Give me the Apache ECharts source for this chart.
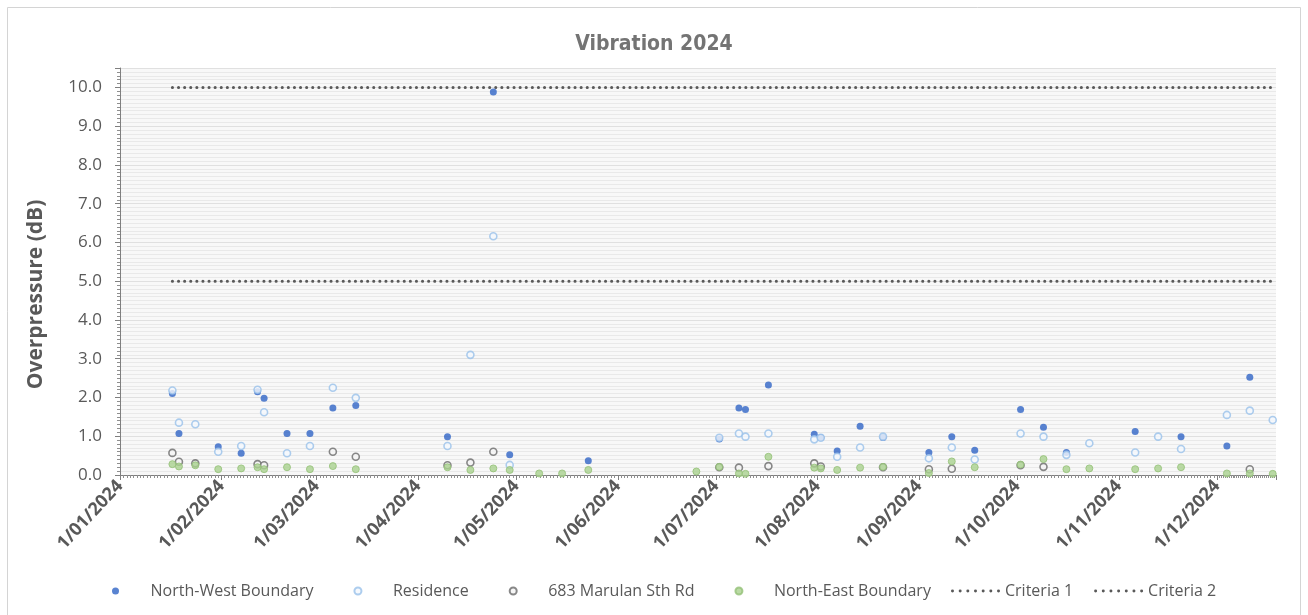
<!DOCTYPE html>
<html><head><meta charset="utf-8">
<script src="https://cdn.jsdelivr.net/npm/echarts@6/dist/echarts.min.js"></script>
<style>html,body{margin:0;padding:0;background:#fff}#c{width:1308px;height:615px}</style>
</head><body><div id="c"></div>
<script>
const dates = ['2024-01-17','2024-01-19','2024-01-24','2024-01-31','2024-02-07','2024-02-12','2024-02-14','2024-02-21','2024-02-28','2024-03-06','2024-03-13','2024-04-10','2024-04-17','2024-04-24','2024-04-29','2024-05-08','2024-05-15','2024-05-23','2024-06-25','2024-07-02','2024-07-08','2024-07-10','2024-07-17','2024-07-31','2024-08-02','2024-08-07','2024-08-14','2024-08-21','2024-09-04','2024-09-11','2024-09-18','2024-10-02','2024-10-09','2024-10-16','2024-10-23','2024-11-06','2024-11-13','2024-11-20','2024-12-04','2024-12-11','2024-12-18'];
const northWest  = [2.10,1.07,null,0.73,0.56,2.15,1.98,1.07,1.07,1.73,1.79,0.99,null,9.88,0.52,null,null,0.37,null,0.93,1.73,1.69,2.32,1.05,0.97,0.62,1.26,0.97,0.58,0.99,0.64,1.69,1.23,0.58,null,1.12,null,0.99,0.75,2.52,null];
const residence  = [2.18,1.35,1.31,0.60,0.75,2.20,1.62,0.56,0.75,2.25,1.99,0.75,3.10,6.16,0.26,null,null,null,null,0.96,1.07,0.99,1.07,0.92,0.96,0.47,0.71,0.99,0.43,0.71,0.40,1.07,0.99,0.52,0.82,0.58,0.99,0.67,1.55,1.66,1.42];
const marulan683 = [0.57,0.34,0.30,null,null,0.28,0.25,null,null,0.60,0.47,0.25,0.32,0.60,null,null,null,null,null,0.20,0.19,null,0.23,0.30,0.22,null,null,0.20,0.15,0.16,null,0.25,0.21,null,null,null,null,null,null,0.15,null];
const northEast  = [0.28,0.22,0.25,0.15,0.17,0.20,0.15,0.20,0.15,0.23,0.15,0.20,0.13,0.17,0.13,0.04,0.04,0.13,0.09,0.21,0.04,0.03,0.47,0.19,0.17,0.13,0.19,0.21,0.05,0.35,0.20,0.27,0.41,0.15,0.17,0.15,0.17,0.20,0.04,0.04,0.03];
const criteriaDates = ['2024-01-17','2024-12-18'];
const criteria1Value = 10;
const criteria2Value = 5;
const seriesNames = ['North-West Boundary','Residence','683 Marulan Sth Rd','North-East Boundary','Criteria 1','Criteria 2'];

function pairs(vals){ return dates.map((d,i)=> vals[i]==null ? null : [d, vals[i]]).filter(Boolean); }
function pad(n){ return (n<10?'0':'')+n; }

// dotted legend icon (7 round dots)
let dotIcon = 'path://';
for (let i = 0; i < 7; i++) {
  const x0 = i * 7.7;
  dotIcon += 'M' + x0 + ' 1.5a1.5 1.5 0 1 0 3 0a1.5 1.5 0 1 0 -3 0z';
}

const FONT = "'Open Sans', 'Noto Sans', sans-serif";
const legendText = {fontFamily:FONT, fontSize:16, color:'#595959'};
const chart = echarts.init(document.getElementById('c'), null, {renderer:'canvas'});
chart.setOption({
  animation:false,
  backgroundColor:'#ffffff',
  graphic:[{type:'rect', shape:{x:7.5,y:7.5,width:1293,height:640}, style:{fill:'none', stroke:'#d4d4d4', lineWidth:1}, silent:true}],
  title:{text:'Vibration 2024', left:'center', top:29,
    textStyle:{fontFamily:"'Liberation Sans Narrow','DejaVu Sans Condensed','Liberation Sans',sans-serif", fontSize:21, fontWeight:'bold', color:'#747474'}},
  grid:{left:120, right:32, top:68, bottom:140, show:true, backgroundColor:'#f8f8f8', borderWidth:0},
  legend:[
    {top:578, left:107, itemWidth:60, itemHeight:7, itemGap:40,
      data:seriesNames.slice(0,4), textStyle:legendText},
    {top:578, left:946, itemWidth:49, itemHeight:3, itemGap:21,
      data:seriesNames.slice(4).map(n=>({name:n, icon:dotIcon})), textStyle:legendText}
  ],
  xAxis:{type:'time', min:'2024-01-01', max:'2024-12-19', splitNumber:12,
    axisLine:{show:true, lineStyle:{color:'#7f7f7f', width:1}},
    axisTick:{show:true, length:5, lineStyle:{color:'#7f7f7f'}},
    minorTick:{show:true, splitNumber:30, length:3, lineStyle:{color:'#8f8f8f'}},
    splitLine:{show:false},
    axisLabel:{rotate:47, fontFamily:FONT, fontSize:18, fontWeight:'bold', color:'#595959', margin:8,
      formatter:function(v){ const d=new Date(v); return '1/'+pad(d.getMonth()+1)+'/'+d.getFullYear(); }}},
  yAxis:{type:'value', min:0, max:10.5, interval:1,
    name:'Overpressure (dB)', nameLocation:'middle', nameGap:73,
    nameTextStyle:{fontFamily:FONT, fontSize:21, fontWeight:'bold', color:'#595959', padding:[0,46,0,0]},
    axisLine:{show:true, lineStyle:{color:'#7f7f7f'}},
    axisTick:{show:true, length:5, lineStyle:{color:'#7f7f7f'}},
    minorTick:{show:true, splitNumber:10, length:3, lineStyle:{color:'#8f8f8f'}},
    splitLine:{show:true, lineStyle:{color:'#e0e0e0'}},
    minorSplitLine:{show:true, lineStyle:{color:'#e9e9e9'}},
    axisLabel:{fontFamily:FONT, fontSize:17, color:'#595959', margin:18,
      formatter:function(v){ return v>10.01 ? '' : v.toFixed(1); }}},
  series:[
    {name:seriesNames[0], type:'scatter', symbol:'circle', symbolSize:7, z:3,
      itemStyle:{color:'#2f64c6'}, data:pairs(northWest)},
    {name:seriesNames[1], type:'scatter', symbol:'circle', symbolSize:7, z:3,
      itemStyle:{color:'#f4f8fd', borderColor:'#98c0ea', borderWidth:1.6}, data:pairs(residence)},
    {name:seriesNames[2], type:'scatter', symbol:'circle', symbolSize:7, z:3,
      itemStyle:{color:'#f4f4f4', borderColor:'#6a6a6a', borderWidth:1.6}, data:pairs(marulan683)},
    {name:seriesNames[3], type:'scatter', symbol:'circle', symbolSize:7, z:3,
      itemStyle:{color:'#a9d18e', borderColor:'#93c077', borderWidth:1}, data:pairs(northEast)},
    {name:seriesNames[4], type:'line', symbol:'none', z:2,
      lineStyle:{color:'#595959', width:3, type:[0.1,6], cap:'round'},
      itemStyle:{color:'#595959'},
      data:criteriaDates.map(d=>[d, criteria1Value])},
    {name:seriesNames[5], type:'line', symbol:'none', z:2,
      lineStyle:{color:'#595959', width:3, type:[0.1,6], cap:'round'},
      itemStyle:{color:'#595959'},
      data:criteriaDates.map(d=>[d, criteria2Value])}
  ]
});
</script></body></html>
